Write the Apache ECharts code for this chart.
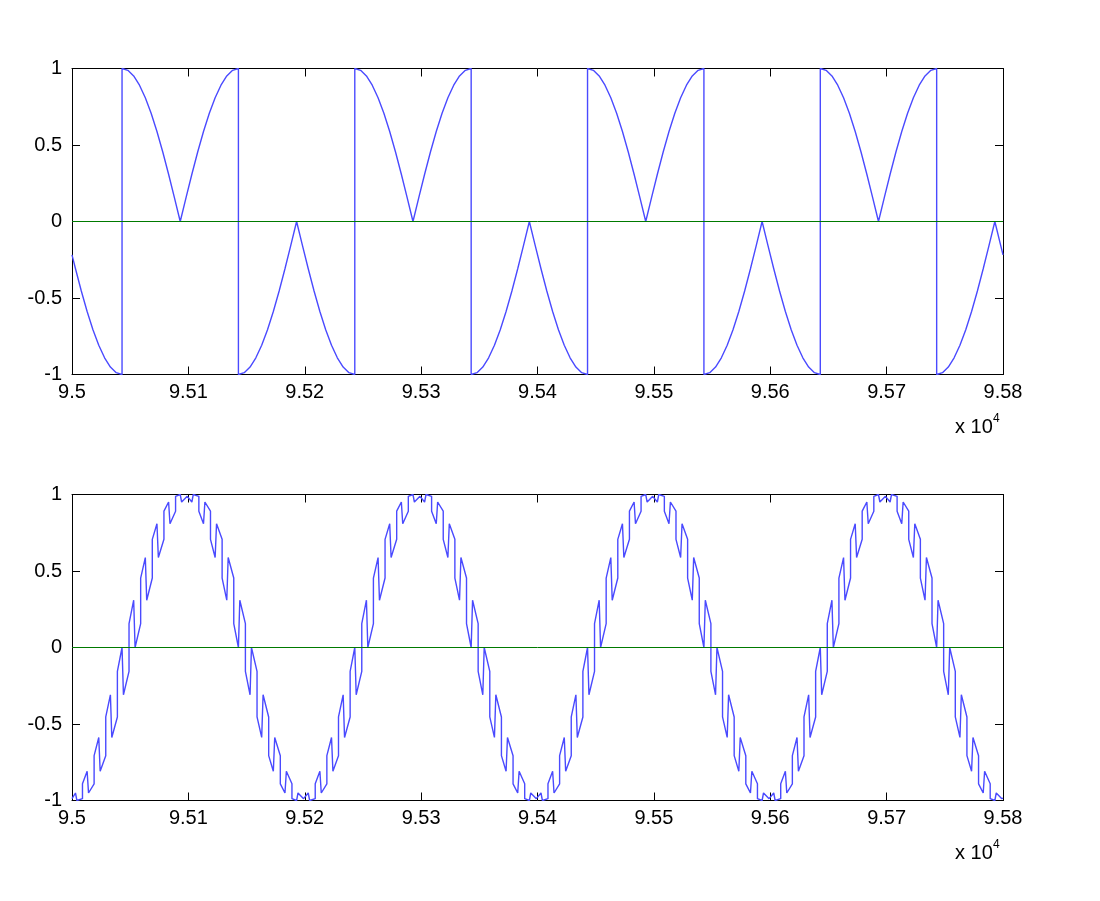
<!DOCTYPE html>
<html>
<head>
<meta charset="utf-8">
<script src="https://cdn.jsdelivr.net/npm/echarts@6/dist/echarts.min.js"></script>
<style>
html,body{margin:0;padding:0;background:#fff;}
#chart{width:1100px;height:901px;}
</style>
</head>
<body>
<div id="chart"></div>
<script>
// ---- tick labels ----
const xTickLabels = ['9.5','9.51','9.52','9.53','9.54','9.55','9.56','9.57','9.58'];
const yTickLabels = ['-1','-0.5','0','0.5','1'];
const xExponentText = 'x 10';
const xExponentPower = '4';

// ---- top subplot signal ----
const topX = [
  95000,95003,95008,95013,95018,95023,95028,95033,95038,95043,
  95043,95048,95053,95058,95063,95068,95073,95078,95083,95088,95093,95098,95103,95108,95113,95118,95123,95128,95133,95138,95143,
  95143,95148,95153,95158,95163,95168,95173,95178,95183,95188,95193,95198,95203,95208,95213,95218,95223,95228,95233,95238,95243,
  95243,95248,95253,95258,95263,95268,95273,95278,95283,95288,95293,95298,95303,95308,95313,95318,95323,95328,95333,95338,95343,
  95343,95348,95353,95358,95363,95368,95373,95378,95383,95388,95393,95398,95403,95408,95413,95418,95423,95428,95433,95438,95443,
  95443,95448,95453,95458,95463,95468,95473,95478,95483,95488,95493,95498,95503,95508,95513,95518,95523,95528,95533,95538,95543,
  95543,95548,95553,95558,95563,95568,95573,95578,95583,95588,95593,95598,95603,95608,95613,95618,95623,95628,95633,95638,95643,
  95643,95648,95653,95658,95663,95668,95673,95678,95683,95688,95693,95698,95703,95708,95713,95718,95723,95728,95733,95738,95743,
  95743,95748,95753,95758,95763,95768,95773,95778,95783,95788,95793,95798,95800
];
const topY = [
  -0.218,-0.309,-0.454,-0.588,-0.707,-0.809,-0.891,-0.951,-0.988,-1,
  1,0.988,0.951,0.891,0.809,0.707,0.588,0.454,0.309,0.156,0,0.156,0.309,0.454,0.588,0.707,0.809,0.891,0.951,0.988,1,
  -1,-0.988,-0.951,-0.891,-0.809,-0.707,-0.588,-0.454,-0.309,-0.156,0,-0.156,-0.309,-0.454,-0.588,-0.707,-0.809,-0.891,-0.951,-0.988,-1,
  1,0.988,0.951,0.891,0.809,0.707,0.588,0.454,0.309,0.156,0,0.156,0.309,0.454,0.588,0.707,0.809,0.891,0.951,0.988,1,
  -1,-0.988,-0.951,-0.891,-0.809,-0.707,-0.588,-0.454,-0.309,-0.156,0,-0.156,-0.309,-0.454,-0.588,-0.707,-0.809,-0.891,-0.951,-0.988,-1,
  1,0.988,0.951,0.891,0.809,0.707,0.588,0.454,0.309,0.156,0,0.156,0.309,0.454,0.588,0.707,0.809,0.891,0.951,0.988,1,
  -1,-0.988,-0.951,-0.891,-0.809,-0.707,-0.588,-0.454,-0.309,-0.156,0,-0.156,-0.309,-0.454,-0.588,-0.707,-0.809,-0.891,-0.951,-0.988,-1,
  1,0.988,0.951,0.891,0.809,0.707,0.588,0.454,0.309,0.156,0,0.156,0.309,0.454,0.588,0.707,0.809,0.891,0.951,0.988,1,
  -1,-0.988,-0.951,-0.891,-0.809,-0.707,-0.588,-0.454,-0.309,-0.156,0,-0.156,-0.218
];

// ---- bottom subplot signal ----
const bottomX = [
  95000,95003,95004.2,
  95009,95009,95013,95014.2, 95019,95019,95023,95024.2, 95029,95029,95033,95034.2, 95039,95039,95043,95044.2,
  95049,95049,95053,95054.2, 95059,95059,95063,95064.2, 95069,95069,95073,95074.2, 95079,95079,95083,95084.2,
  95089,95089,95093,95094.2, 95099,95099,95103,95104.2, 95109,95109,95113,95114.2, 95119,95119,95123,95124.2,
  95129,95129,95133,95134.2, 95139,95139,95143,95144.2, 95149,95149,95153,95154.2, 95159,95159,95163,95164.2,
  95169,95169,95173,95174.2, 95179,95179,95183,95184.2, 95189,95189,95193,95194.2, 95199,95199,95203,95204.2,
  95209,95209,95213,95214.2, 95219,95219,95223,95224.2, 95229,95229,95233,95234.2, 95239,95239,95243,95244.2,
  95249,95249,95253,95254.2, 95259,95259,95263,95264.2, 95269,95269,95273,95274.2, 95279,95279,95283,95284.2,
  95289,95289,95293,95294.2, 95299,95299,95303,95304.2, 95309,95309,95313,95314.2, 95319,95319,95323,95324.2,
  95329,95329,95333,95334.2, 95339,95339,95343,95344.2, 95349,95349,95353,95354.2, 95359,95359,95363,95364.2,
  95369,95369,95373,95374.2, 95379,95379,95383,95384.2, 95389,95389,95393,95394.2, 95399,95399,95403,95404.2,
  95409,95409,95413,95414.2, 95419,95419,95423,95424.2, 95429,95429,95433,95434.2, 95439,95439,95443,95444.2,
  95449,95449,95453,95454.2, 95459,95459,95463,95464.2, 95469,95469,95473,95474.2, 95479,95479,95483,95484.2,
  95489,95489,95493,95494.2, 95499,95499,95503,95504.2, 95509,95509,95513,95514.2, 95519,95519,95523,95524.2,
  95529,95529,95533,95534.2, 95539,95539,95543,95544.2, 95549,95549,95553,95554.2, 95559,95559,95563,95564.2,
  95569,95569,95573,95574.2, 95579,95579,95583,95584.2, 95589,95589,95593,95594.2, 95599,95599,95603,95604.2,
  95609,95609,95613,95614.2, 95619,95619,95623,95624.2, 95629,95629,95633,95634.2, 95639,95639,95643,95644.2,
  95649,95649,95653,95654.2, 95659,95659,95663,95664.2, 95669,95669,95673,95674.2, 95679,95679,95683,95684.2,
  95689,95689,95693,95694.2, 95699,95699,95703,95704.2, 95709,95709,95713,95714.2, 95719,95719,95723,95724.2,
  95729,95729,95733,95734.2, 95739,95739,95743,95744.2, 95749,95749,95753,95754.2, 95759,95759,95763,95764.2,
  95769,95769,95773,95774.2, 95779,95779,95783,95784.2, 95789,95789,95793,95794.2,
  95799,95800
];
const bottomY = [
  -0.988,-0.951,-1,
  -0.988,-0.891,-0.809,-0.951, -0.891,-0.707,-0.588,-0.809, -0.707,-0.454,-0.309,-0.588, -0.454,-0.156,0,-0.309,
  -0.156,0.156,0.309,0, 0.156,0.454,0.588,0.309, 0.454,0.707,0.809,0.588, 0.707,0.891,0.951,0.809,
  0.891,0.988,1,0.951, 0.988,0.988,0.951,1, 0.988,0.891,0.809,0.951, 0.891,0.707,0.588,0.809,
  0.707,0.454,0.309,0.588, 0.454,0.156,0,0.309, 0.156,-0.156,-0.309,0, -0.156,-0.454,-0.588,-0.309,
  -0.454,-0.707,-0.809,-0.588, -0.707,-0.891,-0.951,-0.809, -0.891,-0.988,-1,-0.951, -0.988,-0.988,-0.951,-1,
  -0.988,-0.891,-0.809,-0.951, -0.891,-0.707,-0.588,-0.809, -0.707,-0.454,-0.309,-0.588, -0.454,-0.156,0,-0.309,
  -0.156,0.156,0.309,0, 0.156,0.454,0.588,0.309, 0.454,0.707,0.809,0.588, 0.707,0.891,0.951,0.809,
  0.891,0.988,1,0.951, 0.988,0.988,0.951,1, 0.988,0.891,0.809,0.951, 0.891,0.707,0.588,0.809,
  0.707,0.454,0.309,0.588, 0.454,0.156,0,0.309, 0.156,-0.156,-0.309,0, -0.156,-0.454,-0.588,-0.309,
  -0.454,-0.707,-0.809,-0.588, -0.707,-0.891,-0.951,-0.809, -0.891,-0.988,-1,-0.951, -0.988,-0.988,-0.951,-1,
  -0.988,-0.891,-0.809,-0.951, -0.891,-0.707,-0.588,-0.809, -0.707,-0.454,-0.309,-0.588, -0.454,-0.156,0,-0.309,
  -0.156,0.156,0.309,0, 0.156,0.454,0.588,0.309, 0.454,0.707,0.809,0.588, 0.707,0.891,0.951,0.809,
  0.891,0.988,1,0.951, 0.988,0.988,0.951,1, 0.988,0.891,0.809,0.951, 0.891,0.707,0.588,0.809,
  0.707,0.454,0.309,0.588, 0.454,0.156,0,0.309, 0.156,-0.156,-0.309,0, -0.156,-0.454,-0.588,-0.309,
  -0.454,-0.707,-0.809,-0.588, -0.707,-0.891,-0.951,-0.809, -0.891,-0.988,-1,-0.951, -0.988,-0.988,-0.951,-1,
  -0.988,-0.891,-0.809,-0.951, -0.891,-0.707,-0.588,-0.809, -0.707,-0.454,-0.309,-0.588, -0.454,-0.156,0,-0.309,
  -0.156,0.156,0.309,0, 0.156,0.454,0.588,0.309, 0.454,0.707,0.809,0.588, 0.707,0.891,0.951,0.809,
  0.891,0.988,1,0.951, 0.988,0.988,0.951,1, 0.988,0.891,0.809,0.951, 0.891,0.707,0.588,0.809,
  0.707,0.454,0.309,0.588, 0.454,0.156,0,0.309, 0.156,-0.156,-0.309,0, -0.156,-0.454,-0.588,-0.309,
  -0.454,-0.707,-0.809,-0.588, -0.707,-0.891,-0.951,-0.809, -0.891,-0.988,-1,-0.951,
  -0.988,-0.985
];

// ---- zero reference lines ----
const zeroLineX = [95000, 95800];
const zeroLineY = [0, 0];

const X_MIN = 95000, X_MAX = 95800, X_STEP = 100;
const Y_MIN = -1, Y_MAX = 1, Y_STEP = 0.5;

const FONT = '"Liberation Sans", Arial, Helvetica, sans-serif';
const BLUE = '#4a4aff';
const GREEN = '#007a00';

function zip(xs, ys) { return xs.map((x, i) => [x, ys[i]]); }

function xAxisPair(gi) {
  const base = {
    gridIndex: gi, type: 'value', min: X_MIN, max: X_MAX, interval: X_STEP,
    axisLine: { show: true, onZero: false, lineStyle: { color: '#000', width: 1 } },
    axisTick: { show: true, inside: true, length: 8, lineStyle: { color: '#000', width: 1 } },
    splitLine: { show: false }
  };
  return [
    Object.assign({}, base, {
      position: 'bottom',
      axisLabel: {
        show: true, margin: 8, color: '#000', fontSize: 20, fontFamily: FONT,
        formatter: v => xTickLabels[Math.round((v - X_MIN) / X_STEP)]
      }
    }),
    Object.assign({}, base, { position: 'top', axisLabel: { show: false } })
  ];
}
function yAxisPair(gi) {
  const base = {
    gridIndex: gi, type: 'value', min: Y_MIN, max: Y_MAX, interval: Y_STEP,
    axisLine: { show: true, onZero: false, lineStyle: { color: '#000', width: 1 } },
    axisTick: { show: true, inside: true, length: 8, lineStyle: { color: '#000', width: 1 } },
    splitLine: { show: false }
  };
  return [
    Object.assign({}, base, {
      position: 'left',
      axisLabel: {
        show: true, margin: 10, color: '#000', fontSize: 20, fontFamily: FONT,
        formatter: v => yTickLabels[Math.round((v - Y_MIN) / Y_STEP)]
      }
    }),
    Object.assign({}, base, { position: 'right', axisLabel: { show: false } })
  ];
}

const chart = echarts.init(document.getElementById('chart'), null, { renderer: 'canvas' });
chart.setOption({
  backgroundColor: '#fff',
  animation: false,
  grid: [
    { left: 72, top: 68.5, width: 931, height: 306 },
    { left: 72, top: 494.5, width: 931, height: 306 }
  ],
  xAxis: [...xAxisPair(0), ...xAxisPair(1)],
  yAxis: [...yAxisPair(0), ...yAxisPair(1)],
  series: [
    { type: 'line', xAxisIndex: 0, yAxisIndex: 0, data: zip(topX, topY), showSymbol: false,
      lineStyle: { color: BLUE, width: 1.4 }, itemStyle: { color: BLUE }, z: 2 },
    { type: 'line', xAxisIndex: 0, yAxisIndex: 0, data: zip(zeroLineX, zeroLineY), showSymbol: false,
      lineStyle: { color: GREEN, width: 1 }, itemStyle: { color: GREEN }, z: 3 },
    { type: 'line', xAxisIndex: 2, yAxisIndex: 2, data: zip(bottomX, bottomY), showSymbol: false,
      lineStyle: { color: BLUE, width: 1.4 }, itemStyle: { color: BLUE }, z: 2 },
    { type: 'line', xAxisIndex: 2, yAxisIndex: 2, data: zip(zeroLineX, zeroLineY), showSymbol: false,
      lineStyle: { color: GREEN, width: 1 }, itemStyle: { color: GREEN }, z: 3 }
  ],
  graphic: [
    { type: 'text', left: 955, top: 417, style: { text: xExponentText, fontSize: 20, fontFamily: FONT, fill: '#000' } },
    { type: 'text', left: 993, top: 413, style: { text: xExponentPower, fontSize: 12, fontFamily: FONT, fill: '#000' } },
    { type: 'text', left: 955, top: 843, style: { text: xExponentText, fontSize: 20, fontFamily: FONT, fill: '#000' } },
    { type: 'text', left: 993, top: 839, style: { text: xExponentPower, fontSize: 12, fontFamily: FONT, fill: '#000' } }
  ]
});
</script>
</body>
</html>
